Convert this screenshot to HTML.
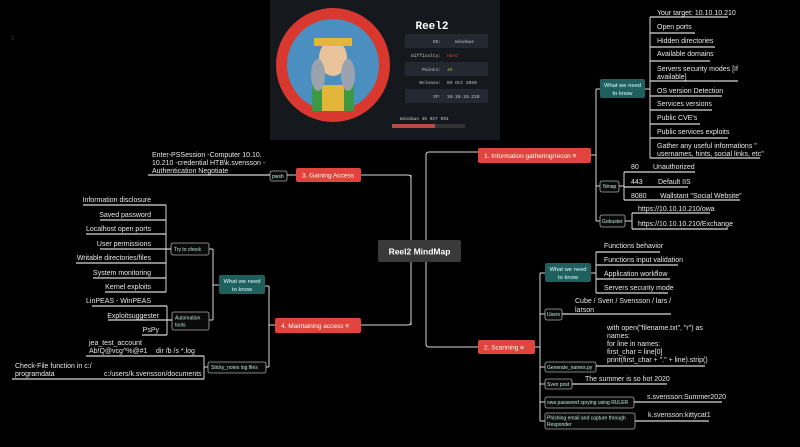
<!DOCTYPE html>
<html><head><meta charset="utf-8"><style>
html,body{margin:0;padding:0;background:#000;}
svg{display:block;font-family:"Liberation Sans",sans-serif;}
.t{fill:#e8e8e8;font-size:7px;}
.s{fill:#bfe9df;font-size:5px;}
.l{stroke:#d8d8d8;stroke-width:1;fill:none;}
.u{stroke:#d8d8d8;stroke-width:1.3;fill:none;}
.teal{fill:#1f5f5e;}
.sb{fill:#0a0a0a;stroke:#aaa;stroke-width:0.8;}
.red{fill:#e0443c;}
</style></head><body>
<svg width="800" height="447" viewBox="0 0 800 447" xmlns="http://www.w3.org/2000/svg">
<rect width="800" height="447" fill="#000"/>
<text x="11" y="40" fill="#555" font-size="6">⁞⁞</text>
<!-- top image -->
<rect x="270" y="0" width="230" height="140" fill="#15181d"/>
<circle cx="333" cy="65" r="57" fill="#d8382e"/>
<circle cx="333" cy="65" r="46" fill="#4b8fc0"/>
<rect x="312" y="85" width="42" height="26" fill="#3c9a45"/>
<rect x="322" y="85" width="22" height="26" fill="#e2b63a"/>
<ellipse cx="333" cy="58" rx="14" ry="18" fill="#e9c49a"/>
<rect x="314" y="38" width="38" height="8" fill="#e2b63a"/>
<ellipse cx="318" cy="75" rx="7" ry="16" fill="#9aa3ad"/>
<ellipse cx="348" cy="75" rx="7" ry="16" fill="#9aa3ad"/>
<text x="432" y="29" text-anchor="middle" fill="#fff" font-size="11" font-weight="bold" font-family="Liberation Mono">Reel2</text>
<rect x="405" y="34" width="83" height="14" fill="#242830"/>
<rect x="405" y="62" width="83" height="14" fill="#242830"/>
<rect x="405" y="89" width="83" height="14" fill="#242830"/>
<g font-family="Liberation Mono" font-size="4.5" fill="#ccc">
<text x="441" y="43" text-anchor="end">OS:</text><text x="455" y="43">Windows</text>
<text x="441" y="57" text-anchor="end">Difficulty:</text><text x="447" y="57" fill="#e0443c">Hard</text>
<text x="441" y="71" text-anchor="end">Points:</text><text x="447" y="71" fill="#9acd32">40</text>
<text x="441" y="84" text-anchor="end">Release:</text><text x="447" y="84">03 Oct 2020</text>
<text x="441" y="98" text-anchor="end">IP:</text><text x="447" y="98">10.10.10.210</text>
<text x="400" y="120">Windows  46  927  991</text>
</g>
<rect x="392" y="124" width="43" height="4" fill="#b94a44"/>
<rect x="435" y="124" width="30" height="4" fill="#333"/>

<!-- central -->
<path class="l" d="M378 251 H411 M411 175 V325 M426 240 V155 Q426 152 429 152 H478 M426 262 V344 Q426 347 429 347 H478 M361 175 H408 Q411 175 411 178 M361 325 H408 Q411 325 411 322"/>
<rect x="378" y="240" width="83" height="22" rx="2" fill="#3a3a3a"/>
<text x="419.5" y="254.5" text-anchor="middle" fill="#fff" font-size="8.5" font-weight="bold">Reel2 MindMap</text>

<!-- 1 info gathering -->
<rect class="red" x="478" y="148" width="113" height="15" rx="2"/>
<text x="484" y="158" fill="#fff" font-size="6.5">1. Information gathering/recon  ≡</text>
<path class="l" d="M591 155 H596 M596 89 V221 M596 89 H600 M596 186 H600 M596 221 H600"/>
<rect class="teal" x="600" y="79" width="45" height="19" rx="2"/>
<text x="622.5" y="87" text-anchor="middle" fill="#dff" font-size="5.8">What we need</text>
<text x="622.5" y="95" text-anchor="middle" fill="#dff" font-size="5.8">to know</text>
<path class="l" d="M645 89 H650 M650 17 V158"/>
<path class="u" d="M650 17 H728 M650 33 H695 M650 47 H715 M650 61 H710 M650 81 H738 M650 96 H722 M650 110 H712 M650 124 H700 M650 138 H728 M650 158 H760"/>
<g class="t">
<text x="657" y="15">Your target: 10.10.10.210</text>
<text x="657" y="29">Open ports</text>
<text x="657" y="43">Hidden directories</text>
<text x="657" y="56">Available domains</text>
<text x="657" y="71">Servers security modes [If</text>
<text x="657" y="79">available]</text>
<text x="657" y="93">OS version Detection</text>
<text x="657" y="106">Services versions</text>
<text x="657" y="120">Public CVE's</text>
<text x="657" y="134">Public services exploits</text>
<text x="657" y="148">Gather any useful informations "</text>
<text x="657" y="156">usernames, hints, social links, etc"</text>
</g>
<rect class="sb" x="600" y="181" width="19" height="11" rx="2"/>
<text class="s" x="603" y="188">Nmap</text>
<path class="l" d="M619 186 H624 M624 172 V200"/>
<path class="u" d="M624 172 H695 M624 187 H688 M624 200 H740"/>
<g class="t">
<text x="631" y="169">80</text><text x="653" y="169">Unauthorized</text>
<text x="631" y="184">443</text><text x="658" y="184">Default IIS</text>
<text x="631" y="198">8080</text><text x="660" y="198">Wallstant "Social Website"</text>
</g>
<rect class="sb" x="600" y="215" width="25" height="12" rx="2"/>
<text class="s" x="602" y="223">Gobuster</text>
<path class="l" d="M625 221 H632 M632 213 V229"/>
<path class="u" d="M632 213 H710 M632 229 H728"/>
<text class="t" x="638" y="211">https://10.10.10.210/owa</text>
<text class="t" x="638" y="226">https://10.10.10.210/Exchange</text>

<!-- 2 scanning -->
<rect class="red" x="478" y="340" width="57" height="14" rx="2"/>
<text x="484" y="349.5" fill="#fff" font-size="6.5">2. Scanning  ≡</text>
<path class="l" d="M535 347 H540 M540 273 V421 M540 273 H545 M540 314 H545 M540 367 H545 M540 384 H545 M540 402 H545 M540 421 H545"/>
<rect class="teal" x="545" y="263" width="46" height="19" rx="2"/>
<text x="568" y="271" text-anchor="middle" fill="#dff" font-size="5.8">What we need</text>
<text x="568" y="279" text-anchor="middle" fill="#dff" font-size="5.8">to know</text>
<path class="l" d="M591 273 H596 M596 252 V293"/>
<path class="u" d="M596 252 H660 M596 265 H678 M596 279 H670 M596 293 H668"/>
<g class="t">
<text x="604" y="248">Functions behavior</text>
<text x="604" y="262">Functions input validation</text>
<text x="604" y="276">Application workflow</text>
<text x="604" y="290">Servers security mode</text>
</g>
<rect class="sb" x="545" y="309" width="17" height="11" rx="2"/><text class="s" x="547" y="316">Users</text>
<path class="u" d="M562 314 H671"/>
<text class="t" x="575" y="303">Cube / Sven / Svensson / lars /</text>
<text class="t" x="575" y="312">larson</text>
<rect class="sb" x="545" y="362" width="51" height="10" rx="2"/><text class="s" x="547" y="369">Generate_names.py</text>
<path class="u" d="M596 366 H705"/>
<g class="t">
<text x="607" y="330">with open("filename.txt", "r") as</text>
<text x="607" y="338">names:</text>
<text x="607" y="346">for line in names:</text>
<text x="607" y="354">first_char = line[0]</text>
<text x="607" y="362">print(first_char + "." + line).strip()</text>
</g>
<rect class="sb" x="545" y="379" width="27" height="10" rx="2"/><text class="s" x="547" y="386">Sven post</text>
<path class="u" d="M572 384 H667"/>
<text class="t" x="585" y="381">The summer is so hot 2020</text>
<rect class="sb" x="545" y="397" width="89" height="11" rx="2"/><text class="s" x="547" y="404">owa password sprying using RULER</text>
<path class="u" d="M634 402 H722"/>
<text class="t" x="647" y="399">s.svensson:Summer2020</text>
<rect class="sb" x="545" y="413" width="90" height="16" rx="2"/>
<text class="s" x="547" y="419.5">Phishing email and capture through</text>
<text class="s" x="547" y="426">Responder</text>
<path class="u" d="M635 421 H709"/>
<text class="t" x="648" y="417">k.svensson:kittycat1</text>

<!-- 3 gaining access -->
<rect class="red" x="296" y="168" width="65" height="14" rx="2"/>
<text x="302" y="177.5" fill="#fff" font-size="6.5">3. Gaining Access</text>
<rect class="sb" x="270" y="171" width="17" height="10" rx="2"/><text class="s" x="272" y="178">pwsh</text>
<path class="l" d="M287 175 H296"/>
<path class="u" d="M148 175 H270"/>
<g class="t">
<text x="152" y="157">Enter-PSSession -Computer 10.10.</text>
<text x="152" y="165">10.210 -credential HTB\k.svensson -</text>
<text x="152" y="173">Authentication Negotiate</text>
</g>

<!-- 4 maintaining -->
<rect class="red" x="275" y="318" width="86" height="15" rx="2"/>
<text x="281" y="328" fill="#fff" font-size="6.5">4. Maintaining access  ≡</text>
<path class="l" d="M275 325 H269 M269 286 V367 M265 286 H269 M266 367 H269"/>
<rect class="teal" x="219" y="275" width="46" height="19" rx="2"/>
<text x="242" y="283" text-anchor="middle" fill="#dff" font-size="5.8">What we need</text>
<text x="242" y="291" text-anchor="middle" fill="#dff" font-size="5.8">to know</text>
<path class="l" d="M219 285 H213 M213 249 V320 M213 249 H209 M213 320 H209"/>
<rect class="sb" x="171" y="243" width="38" height="12" rx="2"/><text class="s" x="174" y="251">Try to check</text>
<rect class="sb" x="172" y="312" width="37" height="18" rx="2"/>
<text class="s" x="175" y="319.5">Automation</text><text class="s" x="175" y="326.5">tools</text>
<path class="l" d="M171 249 H166 M166 205 V292 M172 320 H167 M167 306 V335"/>
<path class="u" d="M83 205 H166 M100 220 H166 M86 234 H166 M100 249 H171 M76 263 H166 M93 278 H166 M105 292 H166 M92 306 H167 M108 320 H172 M142 335 H167"/>
<g class="t" text-anchor="end">
<text x="151" y="202">Information disclosure</text>
<text x="151" y="217">Saved password</text>
<text x="151" y="231">Localhost open ports</text>
<text x="151" y="246">User permissions</text>
<text x="151" y="260">Writable directories/files</text>
<text x="151" y="275">System monitoring</text>
<text x="151" y="289">Kernel exploits</text>
<text x="151" y="303">LinPEAS - WinPEAS</text>
<text x="159" y="318">Exploitsuggester</text>
<text x="159" y="332">PsPy</text>
</g>
<rect class="sb" x="208" y="362" width="58" height="11" rx="2"/><text class="s" x="211" y="369">Sticky_notes log files</text>
<path class="l" d="M208 367 H204 M204 356 V379"/>
<path class="u" d="M86 356 H204 M12 379 H204"/>
<g class="t">
<text x="89" y="345">jea_test_account</text>
<text x="89" y="353">Ab!Q@vcg^%@#1</text>
<text x="156" y="353">dir /b /s *.log</text>
<text x="15" y="368">Check-File function in c:/</text>
<text x="15" y="376">programdata</text>
<text x="104" y="376">c:/users/k.svensson/documents</text>
</g>
</svg>
</body></html>
